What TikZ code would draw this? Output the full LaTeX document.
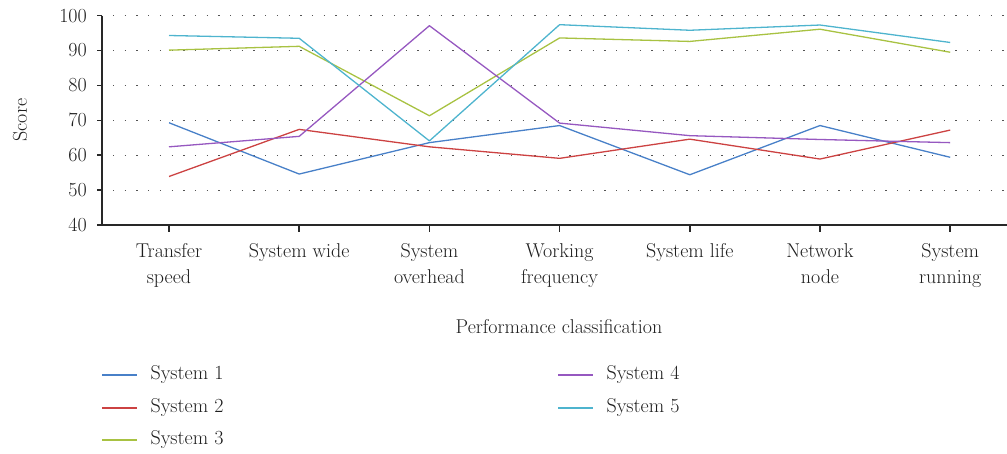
\documentclass[tikz,border=0pt]{standalone}
\usepackage{tikz}
\usetikzlibrary{positioning}
\definecolor{sysone}{RGB}{72,128,200}
\definecolor{systwo}{RGB}{204,66,66}
\definecolor{systhree}{RGB}{168,194,66}
\definecolor{sysfour}{RGB}{150,88,192}
\definecolor{sysfive}{RGB}{78,180,206}
\definecolor{axisgray}{RGB}{40,40,40}
\definecolor{labelgray}{RGB}{30,30,30}

\begin{document}
\begin{tikzpicture}[x=1pt, y=-1pt, font=\fontsize{20}{26}\selectfont, text=labelgray,
		curve/.style={line width=1.3pt, line join=round},
		axisline/.style={line width=1.5pt, color=axisgray},
		gridline/.style={line width=1.2pt, color=axisgray!80, dash pattern=on 1.3pt off 10.4pt},
		keyline/.style={line width=1.1pt}]
		\useasboundingbox (0,0) rectangle (1007,453);
		\begin{scope}[shift={(169,364.6)}, x=130.2pt, y=3.49pt]
			% grid
			\foreach \v in {50,60,...,100}
				\draw[gridline](-0.43,\v)--(6.436,\v);
			% axes
			\draw[axisline](-0.5146,100)--(-0.5146,40);
			\draw[axisline](-0.553,40)--(6.436,40);
			\foreach \v in {40,50,...,100}{
				\draw[axisline](-0.553,\v)--(-0.5146,\v);
				\node[left=10pt of {(-0.553,\v)}, inner sep=0](ytick\v){\v};
			}
			\foreach \lab [count=\i from 0] in {{Transfer\\speed}, {System wide}, {System\\overhead}, {Working\\frequency}, {System life}, {Network\\node}, {System\\running}}{
				\draw[axisline](\i,40)--(\i,38);
				\node[below=11pt of {(\i,38)}, inner sep=0, align=center](cat\i){\lab};
			}
			% data
			\draw[curve, sysone](0,69.3)--(1,54.6)--(2,63.6)--(3,68.5)--(4,54.4)--(5,68.5)--(6,59.4);
			\draw[curve, systwo](0,53.9)--(1,67.4)--(2,62.4)--(3,59.1)--(4,64.6)--(5,58.9)--(6,67.2);
			\draw[curve, systhree](0,90.1)--(1,91.2)--(2,71.3)--(3,93.6)--(4,92.6)--(5,96.1)--(6,89.5);
			\draw[curve, sysfour](0,62.4)--(1,65.4)--(2,97.1)--(3,69.2)--(4,65.6)--(5,64.5)--(6,63.6);
			\draw[curve, sysfive](0,94.3)--(1,93.5)--(2,64.1)--(3,97.4)--(4,95.8)--(5,97.3)--(6,92.3);
		\end{scope}
		\node(xtitle)at(559, 327){Performance classification};
		\node[rotate=90](ytitle)at(20, 120){Score};
		% legend
		\foreach \c/\x/\y/\lab in {sysone/102/375/System 1, systwo/102/408/System 2, systhree/102/440/System 3, sysfour/558/375/System 4, sysfive/558/408/System 5}{
			\coordinate(k\c)at(\x, \y);
			\draw[keyline, \c](k\c)--++(35, 0)node[right=13pt, inner sep=0, text=labelgray](t\c){\lab};
		}
	\end{tikzpicture}
\end{document}
